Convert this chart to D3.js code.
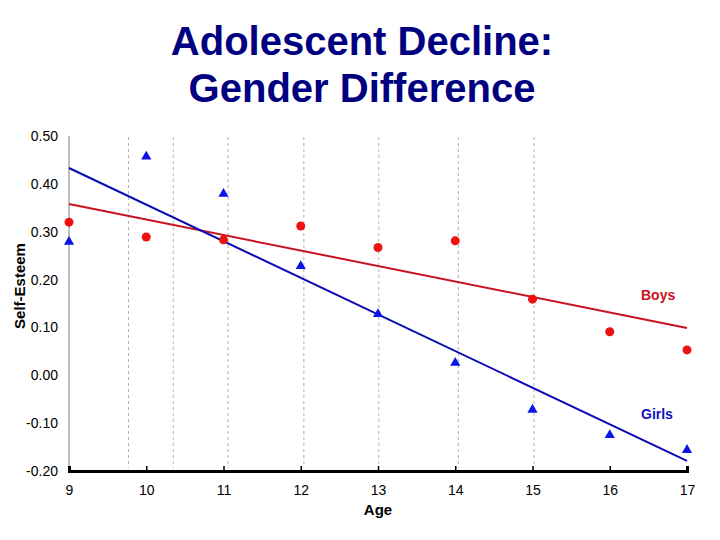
<!DOCTYPE html>
<html>
<head>
<meta charset="utf-8">
<script src="https://cdn.jsdelivr.net/npm/d3@7"></script>
<style>
  body { margin: 0; background: #fff; }
  text { font-family: "Liberation Sans", Arial, sans-serif; }
</style>
</head>
<body>
<svg id="chart" width="720" height="540"></svg>
<script>
// Data
const ages = [9, 10, 11, 12, 13, 14, 15, 16, 17];
const boys = [0.320, 0.289, 0.283, 0.312, 0.267, 0.281, 0.159, 0.091, 0.053];
const girls = [0.279, 0.457, 0.379, 0.228, 0.128, 0.026, -0.072, -0.125, -0.156];
const yTicks = [0.5, 0.4, 0.3, 0.2, 0.1, 0.0, -0.1, -0.2];
const gridAges = [9.77, 10.35, 11.06, 12.04, 13.01, 14.04, 15.02];
const titleLines = ["Adolescent Decline:", "Gender Difference"];

const svg = d3.select("#chart");

const x = d3.scaleLinear().domain([9, 17]).range([69, 687]);
const y = d3.scaleLinear().domain([-0.2, 0.5]).range([471, 136]);

// Least squares fit for the trend lines
function fit(xs, ys) {
  const mx = d3.mean(xs), my = d3.mean(ys);
  const num = d3.sum(xs, (v, i) => (v - mx) * (ys[i] - my));
  const den = d3.sum(xs, (v) => (v - mx) * (v - mx));
  const slope = num / den;
  return (v) => my + slope * (v - mx);
}

// Title
svg.append("g")
  .selectAll("text")
  .data(titleLines)
  .join("text")
  .attr("x", 362)
  .attr("y", (d, i) => 55 + i * 47)
  .attr("text-anchor", "middle")
  .attr("font-size", "40px")
  .attr("font-weight", "bold")
  .attr("fill", "#000080")
  .text((d) => d);

// Dashed vertical gridlines
svg.append("g")
  .selectAll("line")
  .data(gridAges)
  .join("line")
  .attr("x1", (d) => x(d))
  .attr("x2", (d) => x(d))
  .attr("y1", 137)
  .attr("y2", 468)
  .attr("stroke", "#b4b4b4")
  .attr("stroke-width", 1)
  .attr("stroke-dasharray", "3,3");

// Left axis (grey line, labels only)
svg.append("line")
  .attr("x1", x(9)).attr("x2", x(9))
  .attr("y1", y(0.5)).attr("y2", y(-0.2))
  .attr("stroke", "#808080")
  .attr("stroke-width", 1);

svg.append("g")
  .selectAll("text")
  .data(yTicks)
  .join("text")
  .attr("x", 58)
  .attr("y", (d) => y(d) + 5)
  .attr("text-anchor", "end")
  .attr("font-size", "14px")
  .attr("fill", "#000")
  .text((d) => d3.format(".2f")(d).replace("−", "-"));

// Bottom axis
const xAxis = svg.append("g")
  .attr("transform", `translate(0,${y(-0.2)})`)
  .call(d3.axisBottom(x).tickValues(ages).tickSize(-5).tickPadding(14).tickFormat(d3.format("d")));
xAxis.select(".domain").attr("stroke", "#000").attr("stroke-width", 3);
xAxis.selectAll(".tick line").attr("stroke", "#000").attr("stroke-width", 1.5);
xAxis.selectAll(".tick text")
  .attr("font-size", "14px")
  .attr("font-family", "Liberation Sans, Arial, sans-serif")
  .attr("fill", "#000");

// Axis titles
svg.append("text")
  .attr("transform", "translate(25,286) rotate(-90)")
  .attr("text-anchor", "middle")
  .attr("font-size", "15px")
  .attr("font-weight", "bold")
  .text("Self-Esteem");

svg.append("text")
  .attr("x", x(13))
  .attr("y", 515)
  .attr("text-anchor", "middle")
  .attr("font-size", "15px")
  .attr("font-weight", "bold")
  .text("Age");

// Trend lines
const boysFit = fit(ages, boys);
const girlsFit = fit(ages, girls);

svg.append("line")
  .attr("x1", x(9)).attr("y1", y(boysFit(9)))
  .attr("x2", x(17)).attr("y2", y(boysFit(17)))
  .attr("stroke", "#c8141e")
  .attr("stroke-width", 2);

svg.append("line")
  .attr("x1", x(9)).attr("y1", y(girlsFit(9)))
  .attr("x2", x(17)).attr("y2", y(girlsFit(17)))
  .attr("stroke", "#0a0ab4")
  .attr("stroke-width", 2);

// Boys points
svg.append("g")
  .selectAll("circle")
  .data(ages)
  .join("circle")
  .attr("cx", (d) => x(d))
  .attr("cy", (d, i) => y(boys[i]))
  .attr("r", 4.5)
  .attr("fill", "#ee1111");

// Girls points
const tri = d3.symbol().type(d3.symbolTriangle).size(45);
svg.append("g")
  .selectAll("path")
  .data(ages)
  .join("path")
  .attr("d", tri)
  .attr("transform", (d, i) => `translate(${x(d)},${y(girls[i])})`)
  .attr("fill", "#0a14e6");

// Series labels
svg.append("text")
  .attr("x", 641).attr("y", 300)
  .attr("font-size", "14px")
  .attr("font-weight", "bold")
  .attr("fill", "#cc1020")
  .text("Boys");

svg.append("text")
  .attr("x", 641).attr("y", 419)
  .attr("font-size", "14px")
  .attr("font-weight", "bold")
  .attr("fill", "#1010c0")
  .text("Girls");
</script>
</body>
</html>
